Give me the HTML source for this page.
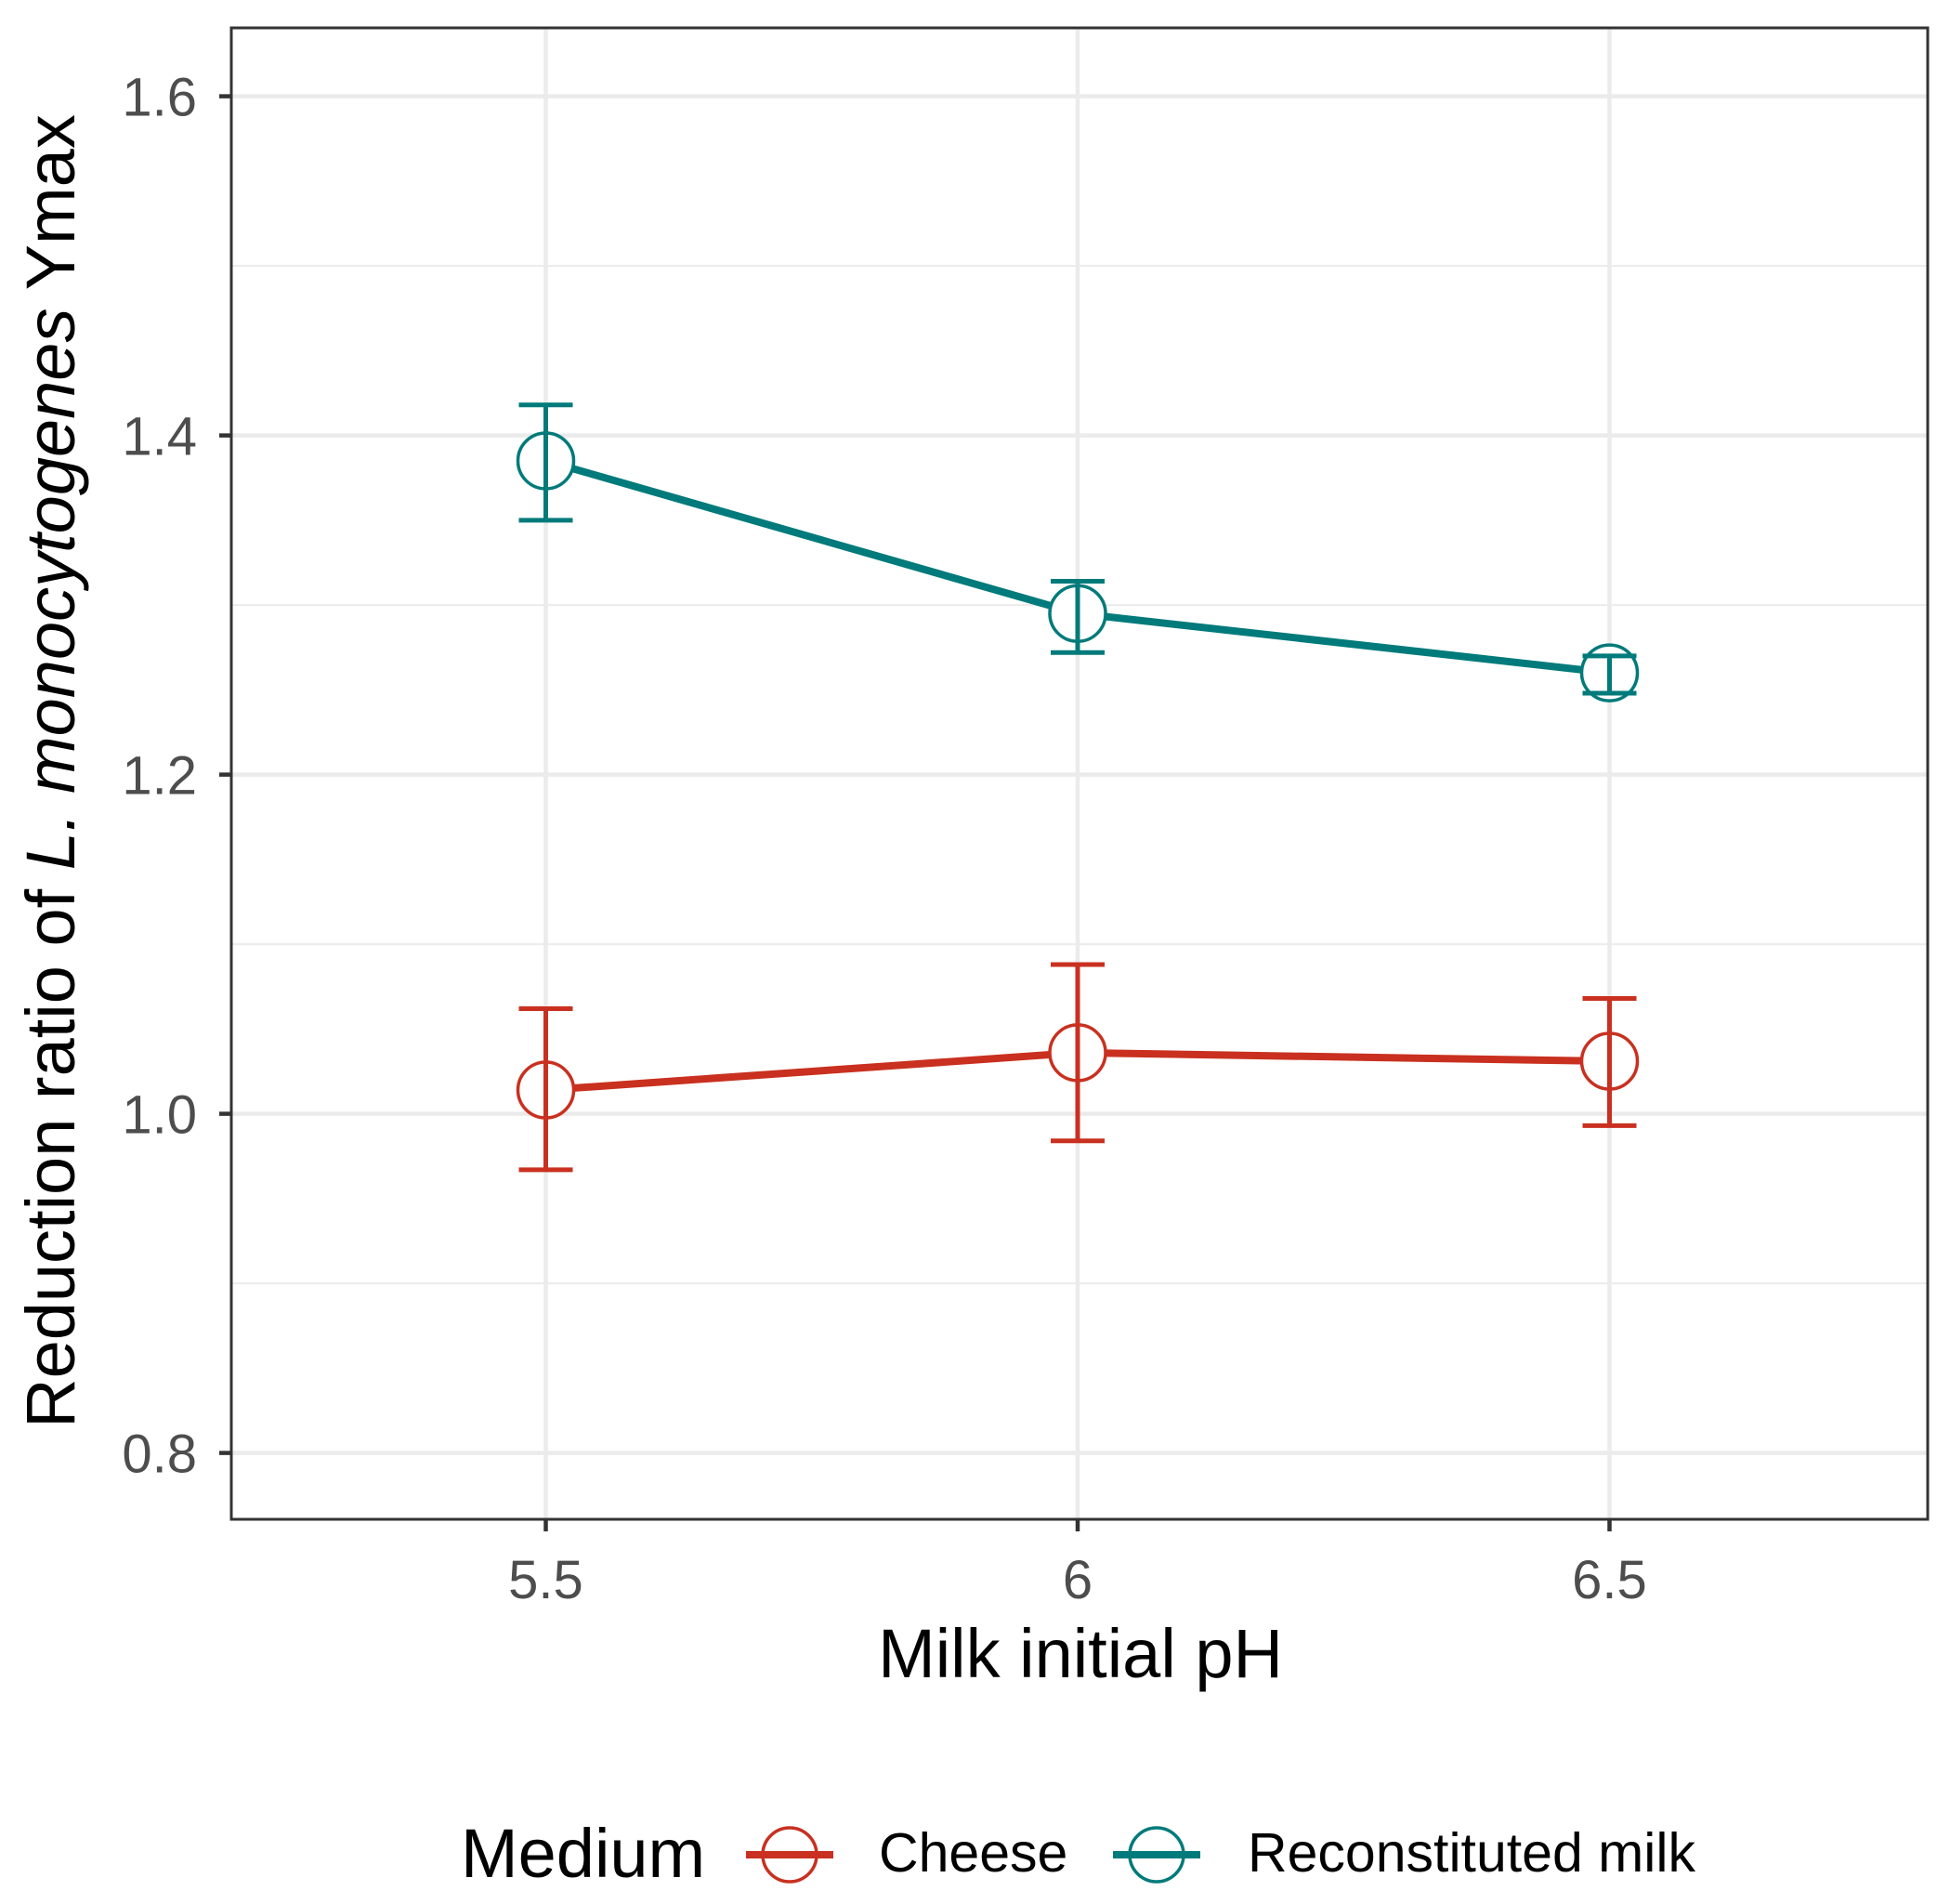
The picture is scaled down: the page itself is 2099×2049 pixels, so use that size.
<!DOCTYPE html>
<html><head><meta charset="utf-8"><style>
body{margin:0;background:#fff}
svg text{font-family:"Liberation Sans",Arial,sans-serif}
</style></head><body>
<svg width="2099" height="2044" viewBox="0 0 2099 2044" xmlns="http://www.w3.org/2000/svg">
<g id="grid"></g>
<g id="series"></g>
<rect x="249" y="30" width="1826" height="1605" fill="none" stroke="#333" stroke-width="3"/>
<g id="axes"></g>
<text x="1163" y="1805" font-size="74" text-anchor="middle" fill="#000">Milk initial pH</text>
<text transform="translate(80,830) rotate(-90)" font-size="74" text-anchor="middle" fill="#000">Reduction ratio of <tspan font-style="italic">L. monocytogenes</tspan> Ymax</text>
<g>
<text x="496" y="2020" font-size="74" fill="#000">Medium</text>
<g>
<line x1="803" y1="1996" x2="897" y2="1996" stroke="#C9301F" stroke-width="8"/>
<circle cx="850" cy="1996" r="29" fill="none" stroke="#C9301F" stroke-width="3.5"/>
<text x="946" y="2014" font-size="59" fill="#000">Cheese</text>
</g>
<g>
<line x1="1198" y1="1996" x2="1292" y2="1996" stroke="#007A7A" stroke-width="8"/>
<circle cx="1245" cy="1996" r="29" fill="none" stroke="#007A7A" stroke-width="3.5"/>
<text x="1343" y="2014" font-size="59" fill="#000">Reconstituted milk</text>
</g>
</g>
</svg>
<script>
const categories=[5.5,6,6.5];
const yTicks=[0.8,1.0,1.2,1.4,1.6];
const yTickLabels=["0.8","1.0","1.2","1.4","1.6"];
const yMinor=[0.9,1.1,1.3,1.5];
const xTickLabels=["5.5","6","6.5"];
const cheeseMean=[1.014,1.036,1.031];
const cheeseLow=[0.967,0.984,0.993];
const cheeseHigh=[1.062,1.088,1.068];
const milkMean=[1.385,1.295,1.260];
const milkLow=[1.350,1.272,1.248];
const milkHigh=[1.418,1.314,1.270];

const NS="http://www.w3.org/2000/svg";
function X(v){return 1160+(v-6)*1145;}
function Y(v){return 103.6+(1.6-v)*1825;}
function mk(tag,attrs,parent){const e=document.createElementNS(NS,tag);for(const k in attrs)e.setAttribute(k,attrs[k]);parent.appendChild(e);return e;}
const grid=document.getElementById('grid'),axes=document.getElementById('axes'),series=document.getElementById('series');
yMinor.forEach(v=>{const l=mk('line',{x1:249,x2:2075,y1:Y(v),y2:Y(v),stroke:'#EBEBEB','stroke-width':2},grid);

});
yTicks.forEach((v,i)=>{const l=mk('line',{x1:249,x2:2075,y1:Y(v),y2:Y(v),stroke:'#EBEBEB','stroke-width':4.5},grid);


const t=mk('line',{x1:236,x2:249,y1:Y(v),y2:Y(v),stroke:'#333','stroke-width':4.5},axes);


const tx=mk('text',{x:212,y:Y(v)+21,'font-size':58,'text-anchor':'end',fill:'#4D4D4D'},axes);tx.textContent=yTickLabels[i];

});
categories.forEach((c,i)=>{const l=mk('line',{x1:X(c),x2:X(c),y1:30,y2:1635,stroke:'#EBEBEB','stroke-width':4.5},grid);


const t=mk('line',{x1:X(c),x2:X(c),y1:1635,y2:1648,stroke:'#333','stroke-width':4.5},axes);


const tx=mk('text',{x:X(c),y:1720,'font-size':58,'text-anchor':'middle',fill:'#4D4D4D'},axes);tx.textContent=xTickLabels[i];

});
function draw(mean,low,high,color,name){
 const g=mk('g',{},series);
 
 
 const p=mk('polyline',{points:categories.map((c,i)=>X(c)+','+Y(mean[i])).join(' '),fill:'none',stroke:color,'stroke-width':8},g);
 
 
 categories.forEach((c,i)=>{
  const ci=mk('circle',{cx:X(c),cy:Y(mean[i]),r:30,fill:'#fff',stroke:color,'stroke-width':3.5},g);
  
  
  const e=mk('path',{d:`M${X(c)-29},${Y(high[i])}H${X(c)+29}M${X(c)},${Y(high[i])}V${Y(low[i])}M${X(c)-29},${Y(low[i])}H${X(c)+29}`,fill:'none',stroke:color,'stroke-width':5},g);
  
  
 });
}
draw(cheeseMean,cheeseLow,cheeseHigh,'#C9301F','cheese');
draw(milkMean,milkLow,milkHigh,'#007A7A','reconstituted-milk');
</script>
</body></html>
